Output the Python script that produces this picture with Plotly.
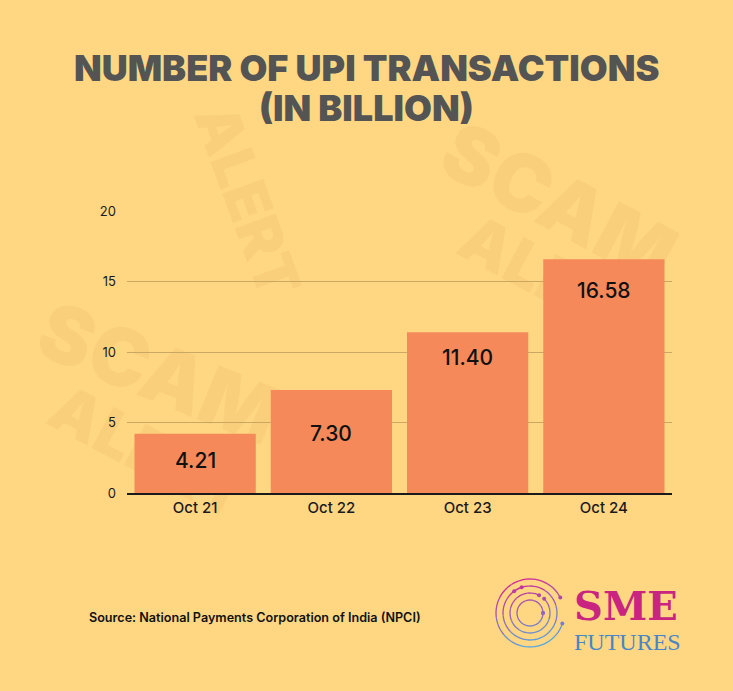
import plotly.graph_objects as go
import numpy as np

# ---------------- data ----------------
categories = ["Oct 21", "Oct 22", "Oct 23", "Oct 24"]
values = [4.21, 7.30, 11.40, 16.58]
value_labels = ["4.21", "7.30", "11.40", "16.58"]
y_ticks = [0, 5, 10, 15, 20]
label_offsets = [27, 43, 25, 31]  # px below bar top (style)

title_line1 = "NUMBER OF UPI TRANSACTIONS"
title_line2 = "(IN BILLION)"
source_text = "Source: National Payments Corporation of India (NPCI)"

# ---------------- geometry ----------------
W, H = 733, 691
L, R, T, B = 127, 61, 211, 198
pw = W - L - R
ph = H - T - B


def px(x):
    return (x - L) / pw


def py(y):
    return (H - B - y) / ph


BG = "#FFD783"
BAR = "#F5895A"
GRID = "#C9A866"

fig = go.Figure()
fig.add_trace(go.Bar(
    x=categories, y=values, width=0.89,
    marker=dict(color=BAR, line=dict(width=0)),
    hoverinfo="skip",
))

annotations = []
for c, v, lab, off in zip(categories, values, value_labels, label_offsets):
    annotations.append(dict(
        x=c, y=v, xref="x", yref="y", text=lab, showarrow=False,
        yshift=-off, yanchor="middle", xanchor="center",
        font=dict(family="Inter", size=21, color="#111111", weight=500),
    ))

# title
for txt, yy in ((title_line1, 68), (title_line2, 108)):
    annotations.append(dict(
        x=px(366), y=py(yy), xref="paper", yref="paper", text=txt,
        showarrow=False, xanchor="center", yanchor="middle",
        font=dict(family="Inter", size=36, color="#545454", weight=900),
    ))

# source
annotations.append(dict(
    x=px(87), y=py(617), xref="paper", yref="paper", text=source_text,
    showarrow=False, xanchor="left", yanchor="middle",
    font=dict(family="Inter", size=12.6, color="#111111", weight=600),
))

# logo text
annotations.append(dict(
    x=px(626), y=py(605), xref="paper", yref="paper", text="<b>SME</b>",
    showarrow=False, xanchor="center", yanchor="middle",
    font=dict(family="DejaVu Serif", size=40, color="#C9247F"),
))
annotations.append(dict(
    x=px(627), y=py(642), xref="paper", yref="paper", text="FUTURES",
    showarrow=False, xanchor="center", yanchor="middle",
    font=dict(family="Liberation Serif", size=24, color="#4A86C5"),
))

shapes = []

# faint watermark (below everything)
wm_color = "rgba(214,160,70,0.12)"
wm = [
    ("SCAM", 560, 200, 80, 28),
    ("ALERT", 560, 280, 64, 28),
    ("SCAM", 160, 370, 80, 22),
    ("ALERT", 150, 450, 64, 28),
    ("ALERT", 250, 200, 60, 70),
]
for txt, cx, cy, size, ang in wm:
    shapes.append(dict(
        type="rect", xref="paper", yref="paper",
        x0=px(cx - 5), x1=px(cx + 5), y0=py(cy + 5), y1=py(cy - 5),
        line=dict(width=0), fillcolor="rgba(0,0,0,0)", layer="below",
        label=dict(text=txt, textangle=ang, textposition="middle center",
                   font=dict(family="Inter", size=size, color=wm_color, weight=900)),
    ))

# logo rings
cx0, cy0 = 530, 613


def grad(yv):
    frac = min(max((yv - (cy0 - 34)) / 68, 0), 1)
    r = int(210 * (1 - frac) + 80 * frac)
    g = int(40 * (1 - frac) + 170 * frac)
    b = int(150 * (1 - frac) + 225 * frac)
    return f"rgb({r},{g},{b})"


rings = [(34, 0.15, 1.75), (27, 0.6, 2.1), (20, 0.35, 1.9), (13, 0.0, 2.0)]
for r, a0, a1 in rings:
    t = np.linspace(a0 * np.pi, a0 * np.pi + a1 * np.pi, 60)
    xs = cx0 + r * np.cos(t)
    ys = cy0 - r * np.sin(t)
    n = len(t)
    for k in range(0, n - 1, 6):
        seg = slice(k, min(k + 7, n))
        path = "M " + " L ".join(f"{px(a):.5f},{py(b):.5f}" for a, b in zip(xs[seg], ys[seg]))
        shapes.append(dict(type="path", xref="paper", yref="paper", path=path,
                           line=dict(color=grad(ys[k]), width=1.3)))
    for ang in (t[0], t[-1]):
        dx, dy = cx0 + r * np.cos(ang), cy0 - r * np.sin(ang)
        shapes.append(dict(type="circle", xref="paper", yref="paper",
                           x0=px(dx - 2), x1=px(dx + 2), y0=py(dy + 2), y1=py(dy - 2),
                           line=dict(width=0), fillcolor=grad(dy)))

fig.update_layout(
    width=W, height=H,
    margin=dict(l=L, r=R, t=T, b=B),
    paper_bgcolor=BG, plot_bgcolor="rgba(0,0,0,0)",
    showlegend=False,
    annotations=annotations,
    shapes=shapes,
    xaxis=dict(
        showgrid=False, showline=True, linecolor="#1a1a1a", linewidth=1.5,
        ticks="", tickfont=dict(family="Inter", size=15, color="#1a1a1a", weight=500),
        fixedrange=True,
    ),
    yaxis=dict(
        range=[0, 20], tickvals=y_ticks, showgrid=True, gridcolor=GRID,
        gridwidth=1, zeroline=False, showline=False, ticks="",
        tickfont=dict(family="Inter", size=13, color="#1a1a1a"),
        ticklabelstandoff=10, fixedrange=True,
    ),
)

fig.write_html(
    "out.html",
    config={"displayModeBar": False},
    post_script="document.body.style.margin='0px';document.body.style.overflow='hidden';",
)
